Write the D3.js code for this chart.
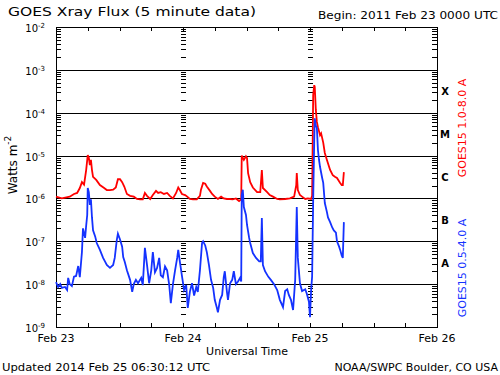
<!DOCTYPE html>
<html>
<head>
<meta charset="utf-8">
<script src="https://cdn.jsdelivr.net/npm/d3@7"></script>
<style>
  html, body { margin: 0; padding: 0; background: #fff; }
  svg { display: block; }
  text { font-family: "DejaVu Sans", sans-serif; fill: #000; }
</style>
</head>
<body>
<div id="chart"></div>
<script>
const width = 500;
const height = 375;

// long channel (1.0-8.0 A), hours since 2011 Feb 23 00:00 UTC
const longHours = [0, 1.1, 2.6, 3.4, 4.0, 4.5, 4.9, 5.3, 5.7, 6.0, 6.2, 6.4, 6.6, 6.8, 7.0, 7.6, 8.3, 9.1, 9.6, 10.2,
  10.8, 11.3, 11.7, 12.1, 12.5, 12.9, 13.4, 14.0, 14.7, 15.3, 15.9, 16.4, 16.8, 17.2, 17.8, 18.3, 18.9, 19.3, 19.8, 20.4,
  21.0, 21.5, 22.1, 22.7, 23.1, 23.4, 23.8, 24.4, 24.8, 25.3, 25.9, 26.6, 27.2, 27.4, 27.8, 28.2, 28.5, 29.1, 29.5, 30.0,
  30.6, 31.2, 31.7, 32.3, 32.9, 33.4, 34.0, 34.6, 35.0, 35.1, 35.5, 35.9, 36.1, 36.3, 36.7, 37.2, 38.0, 38.6, 38.9, 39.1,
  39.9, 40.4, 41.0, 41.8, 42.3, 43.3, 44.2, 45.0, 45.4, 45.5, 45.7, 46.1, 46.5, 47.1, 47.6, 48.2, 48.4, 48.6, 48.8, 48.9,
  49.1, 49.3, 49.5, 49.9, 50.1, 50.5, 50.8, 51.2, 51.8, 52.3, 52.7, 53.1, 53.7, 54.0, 54.2, 54.4];
const longFlux = [1.1e-6, 1.0e-6, 1.1e-6, 1.27e-6, 1.34e-6, 1.75e-6, 2.4e-6, 2.1e-6, 4.6e-6, 1.03e-5, 9e-6, 6.0e-6, 7.9e-6, 4.6e-6, 3.2e-6, 2.7e-6, 2.05e-6, 1.75e-6, 1.57e-6, 1.57e-6,
  1.6e-6, 1.8e-6, 2.8e-6, 2.8e-6, 2.4e-6, 1.9e-6, 1.27e-6, 1.15e-6, 1.1e-6, 9.7e-7, 9.5e-7, 9.5e-7, 1.34e-6, 1.15e-6, 9.7e-7, 1.2e-6, 1.5e-6, 1.34e-6, 1.4e-6, 1.27e-6,
  1.34e-6, 1.15e-6, 1.0e-6, 1.34e-6, 1.8e-6, 1.57e-6, 1.27e-6, 1.2e-6, 1.1e-6, 9.7e-7, 9.5e-7, 9.5e-7, 1.15e-6, 1.6e-6, 2.3e-6, 2.2e-6, 1.9e-6, 1.5e-6, 1.27e-6, 1.1e-6,
  9.7e-7, 1.1e-6, 1.0e-6, 9.7e-7, 9.7e-7, 9.5e-7, 1.0e-6, 8.7e-7, 9.5e-7, 1.0e-5, 7.9e-6, 9.6e-6, 8.8e-6, 3.9e-6, 2.4e-6, 1.8e-6, 1.4e-6, 1.4e-6, 4.6e-6, 1.75e-6,
  1.4e-6, 1.2e-6, 1.1e-6, 9.7e-7, 9.5e-7, 9.7e-7, 1.0e-6, 1.1e-6, 2.05e-6, 3.9e-6, 1.57e-6, 1.2e-6, 1.1e-6, 9.7e-7, 1.0e-6, 9.7e-7, 1.15e-6, 2.6e-4, 4.4e-4, 4.0e-4,
  1.16e-4, 6.1e-5, 4.6e-5, 3.0e-5, 3.3e-5, 2.0e-5, 1.15e-5, 7.9e-6, 4.6e-6, 3.5e-6, 3.2e-6, 3.0e-6, 2.3e-6, 2.05e-6, 2.05e-6, 4.1e-6];

// short channel (0.5-4.0 A)
const shortHours = [0, 0.4, 0.8, 1.1, 1.7, 2.1, 2.3, 2.6, 3.0, 3.4, 3.8, 4.2, 4.5, 4.9, 5.1, 5.5, 5.7, 5.9, 6.0, 6.2,
  6.4, 6.6, 6.8, 7.0, 7.4, 7.7, 8.3, 8.9, 9.3, 9.6, 10.2, 10.8, 11.1, 11.5, 11.7, 12.1, 12.5, 12.7, 13.0, 13.4,
  14.0, 14.4, 14.7, 15.1, 15.5, 16.1, 16.4, 16.8, 17.2, 17.6, 18.0, 18.3, 18.7, 19.1, 19.5, 19.8, 20.2, 20.6, 21.0, 21.4,
  21.7, 22.1, 22.5, 22.9, 23.1, 23.4, 23.8, 24.2, 24.6, 24.9, 25.3, 25.7, 26.1, 26.5, 26.8, 27.2, 27.6, 27.8, 28.2, 28.5,
  28.9, 29.3, 29.7, 30.0, 30.4, 30.6, 31.0, 31.4, 31.7, 31.9, 32.3, 32.5, 32.9, 33.3, 33.6, 34.0, 34.4, 34.8, 35.0, 35.1,
  35.3, 35.5, 35.9, 36.1, 36.5, 36.7, 37.2, 37.8, 38.4, 38.7, 38.9, 39.1, 39.5, 40.1, 40.6, 41.2, 41.8, 42.3, 42.9, 43.3,
  43.7, 44.0, 44.4, 44.8, 45.2, 45.5, 45.7, 46.1, 46.5, 47.1, 47.4, 47.8, 48.0, 48.2, 48.4, 48.6, 48.8, 48.9, 49.1, 49.3,
  49.5, 49.7, 49.9, 50.3, 50.5, 50.8, 51.2, 51.4, 51.8, 52.2, 52.5, 52.9, 53.1, 53.5, 53.7, 54.0, 54.2, 54.4];
const shortFlux = [1.12e-8, 8.6e-9, 1.0e-8, 8.2e-9, 8.6e-9, 7.3e-9, 1.4e-8, 1.0e-8, 9e-9, 1.5e-8, 1.55e-8, 2.65e-8, 1.45e-8, 5.6e-8, 2.0e-7, 1.2e-7, 2.3e-7, 4.1e-7, 1.75e-6, 1.4e-6,
  7.1e-7, 9.5e-7, 3.6e-7, 1.8e-7, 1.3e-7, 9.1e-8, 6.3e-8, 4.1e-8, 3.3e-8, 2.8e-8, 2.4e-8, 2.8e-8, 4.1e-8, 1.1e-7, 1.5e-7, 1.1e-7, 7.5e-8, 4.3e-8, 3.3e-8, 2.1e-8,
  1.26e-8, 6.6e-9, 1.0e-8, 1.26e-8, 1.05e-8, 1.4e-8, 9.5e-9, 7.0e-8, 2.8e-8, 1.05e-8, 2.1e-8, 5.6e-8, 1.9e-8, 2.4e-8, 4.1e-8, 1.6e-8, 1.45e-8, 2.6e-8, 2.1e-8, 9.5e-9,
  3.6e-9, 1.0e-8, 2.1e-8, 4.1e-8, 6.3e-8, 3.4e-8, 1.55e-8, 7.3e-9, 9.5e-9, 2.8e-9, 6.6e-9, 1.05e-8, 5.4e-9, 8.6e-9, 6.6e-9, 2.1e-8, 9.1e-8, 1.0e-7, 8.0e-8, 5.6e-8,
  2.8e-8, 1.26e-8, 8.2e-9, 4.3e-9, 2.8e-9, 2.2e-9, 4.3e-9, 5.6e-9, 1.45e-8, 2.0e-8, 6.6e-9, 4.3e-9, 1.05e-8, 1.26e-8, 2.0e-8, 1.0e-8, 1.15e-8, 1.4e-8, 1.15e-8, 1.2e-6,
  1.6e-6, 6.3e-7, 4.1e-7, 2.4e-7, 1.2e-7, 9.1e-8, 5.3e-8, 4.1e-8, 3.4e-8, 3.4e-8, 3.5e-7, 2.8e-8, 2.0e-8, 1.5e-8, 1.26e-8, 1.0e-8, 7.3e-9, 4.3e-9, 2.9e-9, 6.9e-9,
  7.6e-9, 5.6e-9, 4.3e-9, 2.5e-9, 1.26e-8, 6.3e-7, 4.1e-8, 1.05e-8, 6.9e-9, 7.6e-9, 6.0e-9, 3.9e-9, 1.7e-9, 6.9e-9, 1.5e-8, 9.2e-7, 2.3e-5, 7.4e-5, 5.0e-5, 4.4e-5,
  1.35e-5, 8.0e-6, 5.4e-6, 3.0e-6, 2.3e-6, 7.8e-7, 4.8e-7, 3.6e-7, 2.8e-7, 2.1e-7, 1.8e-7, 1.6e-7, 1.0e-7, 7.5e-8, 6.3e-8, 4.6e-8, 4.1e-8, 2.8e-7];

const decades = [-2, -3, -4, -5, -6, -7, -8, -9];
const classLabels = ["X", "M", "C", "B", "A"];
const classLow = [1e-4, 1e-5, 1e-6, 1e-7, 1e-8];
const dayLabels = ["Feb 23", "Feb 24", "Feb 25", "Feb 26"];

const begin = Date.UTC(2011, 1, 23);
const toDate = h => new Date(begin + h * 3600e3);

const plotLeft = 56, plotRight = 437, plotTop = 27, plotBottom = 327;

const x = d3.scaleUtc()
  .domain([toDate(0), toDate(72)])
  .range([plotLeft, plotRight]);
const y = d3.scaleLog()
  .domain([1e-9, 1e-2])
  .range([plotBottom, plotTop]);

const svg = d3.select("#chart").append("svg")
  .attr("width", width)
  .attr("height", height);

// title lines
svg.append("text").attr("x", 8).attr("y", 16)
  .attr("font-size", 12.5).attr("textLength", 248).attr("lengthAdjust", "spacingAndGlyphs")
  .text("GOES Xray Flux (5 minute data)");
svg.append("text").attr("x", 318).attr("y", 19)
  .attr("font-size", 11).attr("textLength", 180).attr("lengthAdjust", "spacingAndGlyphs")
  .text("Begin:  2011 Feb 23 0000 UTC");

// grid and frame
const grid = svg.append("g").attr("shape-rendering", "crispEdges");
grid.selectAll("line.dec")
  .data(decades.slice(1, -1))
  .join("line")
  .attr("x1", plotLeft).attr("x2", plotRight)
  .attr("y1", d => Math.round(y(Math.pow(10, d)))).attr("y2", d => Math.round(y(Math.pow(10, d))))
  .attr("stroke", "#000");

const minor = y.ticks().filter(v => {
  const m = Math.round(v / Math.pow(10, Math.floor(Math.log10(v) + 1e-9)));
  return m !== 1;
});
const tickCols = [
  { x1: plotLeft, x2: plotLeft + 5 },
  { x1: plotRight - 5, x2: plotRight },
  { x1: x(toDate(24)) - 2, x2: x(toDate(24)) + 3 },
  { x1: x(toDate(48)) - 2, x2: x(toDate(48)) + 3 }
];
tickCols.forEach(c => {
  grid.append("g").selectAll("line")
    .data(minor)
    .join("line")
    .attr("x1", c.x1).attr("x2", c.x2)
    .attr("y1", d => Math.round(y(d))).attr("y2", d => Math.round(y(d)))
    .attr("stroke", "#000");
});

const hourTicks = d3.range(6, 72, 6);
grid.append("g").selectAll("line")
  .data(hourTicks)
  .join("line")
  .attr("x1", d => Math.round(x(toDate(d)))).attr("x2", d => Math.round(x(toDate(d))))
  .attr("y1", plotTop).attr("y2", plotTop + 4)
  .attr("stroke", "#000");
grid.append("g").selectAll("line")
  .data(hourTicks)
  .join("line")
  .attr("x1", d => Math.round(x(toDate(d)))).attr("x2", d => Math.round(x(toDate(d))))
  .attr("y1", plotBottom).attr("y2", plotBottom - 4)
  .attr("stroke", "#000");

grid.append("rect")
  .attr("x", plotLeft).attr("y", plotTop)
  .attr("width", plotRight - plotLeft).attr("height", plotBottom - plotTop)
  .attr("fill", "none").attr("stroke", "#000");

// data lines
const line = d3.line()
  .x(d => x(toDate(d[0])))
  .y(d => y(d[1]));

svg.append("path")
  .datum(d3.zip(longHours, longFlux))
  .attr("d", line)
  .attr("fill", "none")
  .attr("stroke", "#ff0000")
  .attr("stroke-width", 1.8)
  .attr("stroke-linejoin", "miter");

svg.append("path")
  .datum(d3.zip(shortHours, shortFlux))
  .attr("d", line)
  .attr("fill", "none")
  .attr("stroke", "#1432ff")
  .attr("stroke-width", 1.8)
  .attr("stroke-linejoin", "miter");

// y labels
const yl = svg.append("g").selectAll("text")
  .data(decades)
  .join("text")
  .attr("x", 45)
  .attr("y", d => y(Math.pow(10, d)) + 5)
  .attr("font-size", 10)
  .attr("text-anchor", "end");
yl.append("tspan").text("10");
yl.append("tspan").attr("font-size", 7).attr("dy", -4).text(d => d);

svg.append("text")
  .attr("transform", "translate(17,165) rotate(-90)")
  .attr("text-anchor", "middle")
  .attr("font-size", 12)
  .call(t => {
    t.append("tspan").text("Watts m");
    t.append("tspan").attr("font-size", 9).attr("dy", -6).text("-2");
  });

// flare classes
svg.append("g").selectAll("text")
  .data(classLabels)
  .join("text")
  .attr("x", 445)
  .attr("y", (d, i) => y(classLow[i] * Math.sqrt(10)) + 4)
  .attr("text-anchor", "middle")
  .attr("font-family", "Liberation Serif, serif")
  .attr("font-weight", "bold")
  .attr("font-size", 10)
  .text(d => d);

svg.append("text")
  .attr("transform", "translate(466,128) rotate(-90)")
  .attr("text-anchor", "middle")
  .attr("font-size", 11)
  .style("fill", "#ff0000")
  .text("GOES15 1.0-8.0 A");
svg.append("text")
  .attr("transform", "translate(466,268) rotate(-90)")
  .attr("text-anchor", "middle")
  .attr("font-size", 11)
  .style("fill", "#1432ff")
  .text("GOES15 0.5-4.0 A");

// x labels
svg.append("g").selectAll("text")
  .data(dayLabels)
  .join("text")
  .attr("x", (d, i) => x(toDate(i * 24)))
  .attr("y", 342)
  .attr("text-anchor", "middle")
  .attr("font-size", 11)
  .text(d => d);

svg.append("text").attr("x", 247).attr("y", 355)
  .attr("text-anchor", "middle").attr("font-size", 11)
  .text("Universal Time");

svg.append("text").attr("x", 2).attr("y", 371)
  .attr("font-size", 11).attr("textLength", 208).attr("lengthAdjust", "spacingAndGlyphs")
  .text("Updated 2014 Feb 25 06:30:12 UTC");
svg.append("text").attr("x", 498).attr("y", 371)
  .attr("text-anchor", "end").attr("font-size", 11)
  .text("NOAA/SWPC Boulder, CO USA");
</script>
</body>
</html>
